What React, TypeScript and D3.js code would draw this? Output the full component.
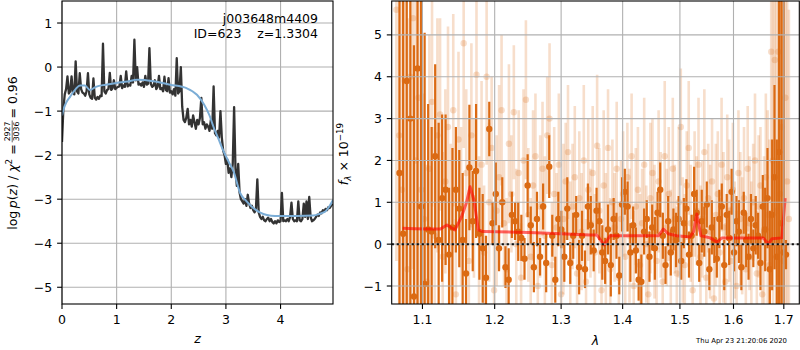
import React, { useEffect, useRef } from 'react';
import * as d3 from 'd3';

// ---- left panel: log p(z) ----
const PZ_DZ = 0.025; // redshift grid step of the p(z) curve
const pzLogP = [
  -1.70, -0.95, -0.62, -0.50, -0.21, -0.60, -0.55, -0.21, -0.58, -0.62,
  0.13, -0.55, -0.60, -0.14, -0.50, -0.58, -0.60, -0.65, -0.55, -0.14,
  -0.62, -0.70, -0.72, -0.26, -0.70, -0.74, -0.68, -0.72, -0.65, -0.66,
  0.53, -0.55, -0.60, -0.52, -0.50, -0.13, -0.52, -0.48, -0.30, -0.50,
  -0.47, -0.45, -0.44, -0.20, -0.48, -0.42, -0.45, -0.10, -0.44, -0.40,
  -0.42, -0.20, -0.35, 0.62, -0.30, 0.00, -0.40, -0.38, -0.42, -0.35,
  -0.45, -0.20, -0.40, -0.38, 0.43, -0.38, -0.45, -0.42, -0.30, -0.50,
  -0.45, -0.20, -0.50, -0.48, -0.55, -0.22, -0.52, -0.55, -0.25, -0.58,
  -0.55, -0.62, -0.50, -0.65, 0.20, -0.60, -0.55, 0.00, -0.90, -1.20,
  -1.25, -1.15, -0.95, -1.30, -1.20, -1.35, -1.10, -1.25, -1.40, -1.20,
  -1.30, -1.15, -0.70, -1.30, -1.25, -1.40, -1.30, -1.35, -1.45, -1.20,
  -1.40, -0.44, -1.50, -1.55, -1.45, -1.60, -1.00, -1.60, -1.90, -2.00,
  -2.20, -2.10, -2.40, -2.30, -2.50, -2.20, -0.91, -2.30, -2.70, -2.20,
  -2.85, -3.00, -3.05, -3.10, -3.00, -3.15, -2.90, -3.10, -3.20, -3.15,
  -3.25, -3.30, -3.20, -2.55, -3.30, -3.40, -3.45, -3.40, -3.48, -3.50,
  -3.45, -3.42, -3.50, -3.45, -3.52, -3.55, -3.50, -3.55, -3.48, -3.52,
  -3.50, -2.86, -3.50, -3.48, -3.50, -3.45, -3.50, -3.40, -3.08, -3.45,
  -3.50, -3.48, -3.50, -3.05, -3.48, -3.50, -3.45, -3.10, -3.40, -3.05,
  -3.45, -2.95, -3.40, -3.50, -3.48, -3.45, -3.40, -3.35, -3.38, -3.30,
  -3.32, -3.25, -3.28, -3.22, -3.25, -3.18, -3.20, -3.15, -3.10,
];
const smoothZ = [0, 0.03, 0.08, 0.15, 0.25, 0.33, 0.42, 0.51, 0.62, 0.8, 1.0, 1.2, 1.37, 1.67, 1.98, 2.28, 2.47, 2.6, 2.7, 2.77, 2.87, 2.96, 3.05, 3.14, 3.26, 3.38, 3.5, 3.62, 3.75, 3.9, 4.05, 4.3, 4.6, 4.72, 4.82, 4.9, 4.96];
const smoothLogP = [-1.1, -0.95, -0.8, -0.67, -0.5, -0.42, -0.42, -0.52, -0.45, -0.4, -0.36, -0.33, -0.29, -0.32, -0.4, -0.48, -0.63, -0.85, -1.1, -1.35, -1.65, -1.92, -2.15, -2.37, -2.86, -3.05, -3.2, -3.3, -3.36, -3.38, -3.38, -3.38, -3.37, -3.33, -3.28, -3.15, -3.02];

const leftXTicks = [0, 1, 2, 3, 4];
const leftYTicks = [-5, -4, -3, -2, -1, 0, 1];

// ---- right panel: spectrum ----
const DARK_LAM0 = 1.07; // binned spectrum grid (micron)
const DARK_DLAM = 0.0047;
const darkFlux = [
  1.7, 0.25, 3.9, 3.0, -1.25, 4.2, 0.9, -0.95, 0.35, 0.3,
  2.1, 0.1, 1.1, 1.3, -0.25, 0.4, 1.3, 0.85, 0.1, -0.7,
  1.83, 0.55, 1.75, 0.25, -0.1, -0.8, 2.75, 0.5, 1.2, -0.1,
  1.0, -0.55, -0.85, 0.7, 0.55, 0.3, 0.15, -0.35, 1.4, 0.45,
  -0.55, 0.6, -0.3, 0.9, -0.45, 1.85, 0.2, -0.85, 0.6, 0.35,
  -0.3, 0.85, -0.45, 0.2, 0.7, -0.55, 0.2, -0.6, 0.9, 0.45,
  -0.15, 0.8, 0.55, -0.2, -0.4, 0.35, -0.5, 0.6, 0.2, -0.75,
  0.95, 1.25, 0.9, -0.2, 0.45, -0.15, -0.85, -0.9, 0.3, 0.6,
  -0.3, 0.4, -0.1, 0.75, 1.3, 0.2, -0.5, 0.55, -0.2, 0.35,
  0.1, 0.6, -0.4, 0.5, 0.85, -0.25, 0.2, 1.2, 0.75, -0.45,
  0.55, 0.3, 0.95, -0.6, 0.4, 0.1, -0.35, 0.6, 0.9, -0.5,
  0.7, 0.15, 1.25, -0.2, 0.55, 0.3, -0.55, 0.75, 0.1, -0.3,
  0.6, -0.1, 0.45, 0.2, -0.45, 0.9, 0.35, 1.1, -0.6, 0.7,
  1.6, -0.3, 2.2, 0.5, -0.2, -0.25,
];
const darkErr = [
  6, 6, 6, 6, 6, 6, 6, 6,
  3.0, 2.5, 2.2, 2.8, 2.0,
  1.8, 1.6, 1.9, 1.5, 1.4, 1.6, 1.3, 1.5, 1.2, 1.6, 1.1, 1.3, 1.0,
  0.65, 0.5, 0.75, 0.55, 0.6, 0.5, 0.75, 0.55, 0.45, 0.7,
  0.55, 0.5, 0.75, 0.45, 0.6, 0.65, 0.45, 0.55, 0.7, 0.75,
  0.5, 0.55, 0.65, 0.45, 0.6, 0.75, 0.5, 0.55, 0.45, 0.65,
  0.6, 0.45, 0.55, 0.7, 0.5, 0.55, 0.45, 0.65, 0.55, 0.6,
  0.75, 0.5, 0.55, 0.45, 0.65, 0.55, 0.6, 0.7, 0.45, 0.55,
  0.5, 0.65, 0.55, 0.45, 0.6, 0.55, 0.75, 0.5, 0.65, 0.55,
  0.45, 0.6, 0.55, 0.5, 0.65, 0.55, 0.45, 0.6, 0.7, 0.55,
  0.5, 0.65, 0.55, 0.45, 0.75, 0.6, 0.55, 0.5, 0.65, 0.55,
  0.45, 0.7, 0.55, 0.6, 0.5, 0.65, 0.55, 0.45, 0.6, 0.75,
  0.55, 0.5, 0.65, 0.55, 0.6, 0.45, 0.7, 0.55, 0.65, 0.75,
  1.0, 1.2, 1.4, 1.8, 2.2, 2.8,
  6, 6, 6, 0.35,
];

const LIGHT_LAM0 = 1.066; // unbinned spectrum grid (micron)
const LIGHT_DLAM = 0.0036;
const lightFlux = [
  5.6, 2.6, 1.3, 3.9, -0.6, 4.0, 5.4, 2.0, 3.5, 1.3,
  0.6, -0.9, 1.8, 3.4, 0.2, 2.6, 3.1, -0.3, 1.5, 2.8,
  0.4, 3.2, -1.2, 2.5, 0.9, 4.8, 1.7, -0.4, 2.6, 1.1,
  4.05, 0.3, 1.9, -0.2, 4.0, 1.0, 2.3, -1.1, 0.8, 1.6,
  3.2, 0.5, -0.6, 2.4, 1.2, 3.15, 0.0, 1.7, -0.8, 2.0,
  3.45, 0.7, -0.3, 1.4, 2.1, -1.0, 0.9, 1.8, 0.2, 2.6,
  3.0, -0.5, 1.2, 0.4, 1.9, -1.2, 0.6, 1.5, 2.2, -0.4,
  0.9, 1.6, -0.7, 1.1, 0.3, 2.0, -0.9, 1.3, 0.5, 1.7,
  -0.2, 2.35, 0.8, -1.1, 1.4, 0.1, 2.3, -0.6, 1.0, 0.4,
  1.8, -0.8, 0.6, 1.2, -0.3, 1.6, 0.2, 2.1, -1.0, 0.9,
  1.3, -0.5, 0.5, 1.9, 0.0, -1.2, 1.1, 1.7, 0.3, -0.4,
  1.5, 0.7, -0.9, 2.1, 0.4, 1.2, -0.2, 1.8, 0.6, -0.7,
  1.0, 2.8, 0.1, -0.5, 1.4, 2.3, 0.5, -1.1, 1.2, 0.8,
  1.9, -0.3, 0.6, 2.2, -0.8, 1.1, 0.3, 1.5, -1.3, 0.7,
  1.2, -0.2, 1.9, 0.4, -0.9, 1.6, 0.8, -0.4, 1.3, 0.1,
  -1.0, 1.7, 0.6, 0.2, 1.1, -0.6, 1.8, 0.5, -0.3, 1.0,
  2.0, -0.7, 0.9, 1.4, -1.2, 0.3, 1.6, 0.7, -0.5, 4.6,
  2.0, 4.4, 0.8, 4.6, 1.2, 2.8, -0.4, 3.5, 1.5, 0.6,
];
const lightErr = [
  6, 6, 6, 6, 6, 6, 6, 6, 6, 6,
  3.0, 2.8, 3.2, 2.5, 2.6, 2.8, 2.3, 2.5, 2.2, 2.4,
  2.0, 2.3, 1.8, 2.1, 1.9, 2.5, 2.0, 1.7, 2.2, 1.9,
  2.4, 1.8, 2.0, 1.6, 2.1, 1.9, 1.7, 2.0, 1.8, 2.2,
  1.8, 1.5, 1.7, 1.9, 1.4, 1.6, 1.8, 1.5, 1.3, 1.7,
  1.9, 1.6, 1.4, 1.8, 1.5, 1.3, 1.7, 1.6, 1.9, 1.4,
  1.8, 1.5, 1.6, 1.3, 1.7, 1.5, 1.8, 1.4, 1.6, 1.9,
  1.5, 1.7, 1.3, 1.6, 1.4, 1.8, 1.5, 1.7, 1.3, 1.6,
  1.4, 1.7, 1.5, 1.3, 1.8, 1.6, 1.4, 1.7, 1.5, 1.3,
  1.6, 1.8, 1.4, 1.5, 1.7, 1.3, 1.6, 1.5, 1.8, 1.4,
  1.5, 1.7, 1.3, 1.6, 1.4, 1.5, 1.8, 1.3, 1.6, 1.4,
  1.7, 1.5, 1.3, 1.8, 1.4, 1.6, 1.5, 1.7, 1.3, 1.6,
  1.8, 1.4, 1.5, 1.7, 1.3, 1.6, 1.4, 1.8, 1.5, 1.3,
  1.6, 1.7, 1.4, 1.5, 1.8, 1.3, 1.6, 1.5, 1.4, 1.7,
  1.5, 1.3, 1.6, 1.8, 1.4, 1.5, 1.7, 1.3, 1.6, 1.4,
  1.8, 1.5, 1.6, 1.4, 1.7, 1.3, 1.5, 1.6, 1.8, 1.4,
  1.6, 1.5, 1.7, 1.4, 1.6, 1.8,
  2.0, 2.5, 3.0, 4.0, 5, 5, 6, 6, 6, 6, 6, 6, 6, 5,
];

const modelLam = [1.074, 1.09, 1.11, 1.124, 1.133, 1.144, 1.153, 1.160, 1.165, 1.1705, 1.1766, 1.183, 1.25, 1.30, 1.346, 1.357, 1.369, 1.379, 1.42, 1.4615, 1.4703, 1.4787, 1.4944, 1.5185, 1.525, 1.5309, 1.5383, 1.5557, 1.5683, 1.5778, 1.62, 1.6586, 1.6685, 1.676, 1.6959, 1.7027];
const modelFlux = [0.38, 0.37, 0.36, 0.36, 0.46, 0.34, 0.65, 1.0, 1.37, 1.05, 0.34, 0.30, 0.28, 0.25, 0.22, 0.22, -0.02, 0.20, 0.20, 0.20, 0.36, 0.25, 0.20, 0.17, 0.30, 0.72, 0.20, 0.15, 0.05, 0.15, 0.15, 0.15, 0.0, 0.13, 0.15, 1.1];

const rightXTicks = [1.1, 1.2, 1.3, 1.4, 1.5, 1.6, 1.7];
const rightYTicks = [-1, 0, 1, 2, 3, 4, 5];

const FONT = 'DejaVu Sans, sans-serif';
const FS = 12.5;
const GRID = '#b0b0b0';
const ORANGE = '#db6a13';

const fmt = (v: number, digits = 0) => (v < 0 ? '\u2212' : '') + Math.abs(v).toFixed(digits);

export default function App() {
  const svgRef = useRef<SVGSVGElement>(null);

  useEffect(() => {
    if (!svgRef.current) return;
    const svg = d3.select(svgRef.current);
    svg.selectAll('*').remove();

    const L = { l: 62, r: 333, t: 1, b: 304 };
    const R = { l: 391.7, r: 799.3, t: 1, b: 304 };

    const xL = d3.scaleLinear().domain([0, 4.96]).range([L.l, L.r]);
    const yL = d3.scaleLinear().domain([-5.38, 1.5]).range([L.b, L.t]);
    const xR = d3.scaleLog().domain([1.06, 1.732]).range([R.l, R.r]);
    const yR = d3.scaleLinear().domain([-1.43, 5.81]).range([R.b, R.t]);

    const defs = svg.append('defs');
    defs.append('clipPath').attr('id', 'clipL')
      .append('rect').attr('x', L.l).attr('y', L.t).attr('width', L.r - L.l).attr('height', L.b - L.t);
    defs.append('clipPath').attr('id', 'clipR')
      .append('rect').attr('x', R.l).attr('y', R.t).attr('width', R.r - R.l).attr('height', R.b - R.t);

    // grid helper
    const grid = (g: any, xs: number[], ys: number[], P: any) => {
      xs.forEach(x => g.append('line').attr('x1', x).attr('x2', x).attr('y1', P.t).attr('y2', P.b)
        .attr('stroke', GRID).attr('stroke-width', 1.1));
      ys.forEach(y => g.append('line').attr('x1', P.l).attr('x2', P.r).attr('y1', y).attr('y2', y)
        .attr('stroke', GRID).attr('stroke-width', 1.1));
    };

    // ---------- left panel ----------
    const gl = svg.append('g');
    grid(gl, leftXTicks.map(t => xL(t)), leftYTicks.map(t => yL(t)), L);

    const dataL = gl.append('g').attr('clip-path', 'url(#clipL)');
    const pzLine = d3.line<number>().x((_, i) => xL(i * PZ_DZ)).y(d => yL(d));
    dataL.append('path').attr('d', pzLine(pzLogP)!)
      .attr('fill', 'none').attr('stroke', '#333').attr('stroke-width', 2.3).attr('stroke-linejoin', 'round');

    const smooth = d3.line<number>().x((_, i) => xL(smoothZ[i])).y(d => yL(d)).curve(d3.curveMonotoneX);
    dataL.append('path').attr('d', smooth(smoothLogP)!)
      .attr('fill', 'none').attr('stroke', '#7badd6').attr('stroke-width', 2);

    gl.append('rect').attr('x', L.l).attr('y', L.t).attr('width', L.r - L.l).attr('height', L.b - L.t)
      .attr('fill', 'none').attr('stroke', '#000').attr('stroke-width', 1.1);

    leftXTicks.forEach(t => {
      gl.append('line').attr('x1', xL(t)).attr('x2', xL(t)).attr('y1', L.b).attr('y2', L.b + 4.9).attr('stroke', '#000').attr('stroke-width', 1.1);
      gl.append('text').attr('x', xL(t)).attr('y', 324).attr('text-anchor', 'middle')
        .attr('font-family', FONT).attr('font-size', FS).text(fmt(t));
    });
    leftYTicks.forEach(t => {
      gl.append('line').attr('x1', L.l - 4.9).attr('x2', L.l).attr('y1', yL(t)).attr('y2', yL(t)).attr('stroke', '#000').attr('stroke-width', 1.1);
      gl.append('text').attr('x', L.l - 9.7).attr('y', yL(t) + 4.5).attr('text-anchor', 'end')
        .attr('font-family', FONT).attr('font-size', FS).text(fmt(t));
    });

    // annotation
    gl.append('text').attr('x', 318).attr('y', 23).attr('text-anchor', 'end')
      .attr('font-family', FONT).attr('font-size', FS).text('j003648m4409');
    gl.append('text').attr('x', 318).attr('y', 38).attr('text-anchor', 'end').style('white-space', 'pre')
      .attr('font-family', FONT).attr('font-size', FS).text('ID=623    z=1.3304');

    gl.append('text').attr('x', (L.l + L.r) / 2).attr('y', 342.5).attr('text-anchor', 'middle')
      .attr('font-family', FONT).attr('font-size', FS).attr('font-style', 'italic').text('z');

    // left y label: log p(z) / chi^2 = 2927/3036 = 0.96
    const lab = gl.append('g').attr('transform', 'translate(16.5,153) rotate(-90)');
    const t1 = lab.append('text').attr('font-family', FONT).attr('font-size', FS);
    t1.append('tspan').text('log\u2009');
    t1.append('tspan').attr('font-style', 'italic').text('p');
    t1.append('tspan').text('(');
    t1.append('tspan').attr('font-style', 'italic').text('z');
    t1.append('tspan').text(') / ');
    t1.append('tspan').attr('font-style', 'italic').text('\u03c7');
    t1.append('tspan').attr('font-size', 8.75).attr('dy', -5).text('2');
    t1.append('tspan').attr('dy', 5).text(' = ');
    const w1 = (t1.node() as SVGTextElement).getComputedTextLength();
    const num = lab.append('text').attr('font-family', FONT).attr('font-size', 7.8).attr('text-anchor', 'middle').text('2927');
    const den = lab.append('text').attr('font-family', FONT).attr('font-size', 7.8).attr('text-anchor', 'middle').text('3036');
    const wf = Math.max((num.node() as SVGTextElement).getComputedTextLength(), (den.node() as SVGTextElement).getComputedTextLength()) + 2;
    const pad = 2;
    const t3 = lab.append('text').attr('font-family', FONT).attr('font-size', FS).text(' = 0.96');
    const w3 = (t3.node() as SVGTextElement).getComputedTextLength();
    const total = w1 + pad + wf + pad + w3;
    const x0 = -total / 2;
    const fx = x0 + w1 + pad;
    t1.attr('x', x0);
    num.attr('x', fx + wf / 2).attr('y', -6.2);
    den.attr('x', fx + wf / 2).attr('y', 2.4);
    lab.append('line').attr('x1', fx).attr('x2', fx + wf).attr('y1', -4.3).attr('y2', -4.3)
      .attr('stroke', '#000').attr('stroke-width', 0.6);
    t3.attr('x', fx + wf + pad);

    // ---------- right panel ----------
    const gr = svg.append('g');
    const dataR = gr.append('g').attr('clip-path', 'url(#clipR)');

    const lightG = dataR.append('g');
    lightFlux.forEach((f, i) => {
      const x = xR(LIGHT_LAM0 + i * LIGHT_DLAM);
      const e = lightErr[i];
      lightG.append('line').attr('x1', x).attr('x2', x).attr('y1', yR(f - e)).attr('y2', yR(f + e))
        .attr('stroke', ORANGE).attr('stroke-width', 2.6).attr('stroke-opacity', 0.22);
      lightG.append('circle').attr('cx', x).attr('cy', yR(f)).attr('r', 3.2)
        .attr('fill', ORANGE).attr('fill-opacity', 0.22);
    });

    const darkG = dataR.append('g');
    darkFlux.forEach((f, i) => {
      const x = xR(DARK_LAM0 + i * DARK_DLAM);
      const e = darkErr[i];
      darkG.append('line').attr('x1', x).attr('x2', x).attr('y1', yR(f - e)).attr('y2', yR(f + e))
        .attr('stroke', ORANGE).attr('stroke-width', 2.2);
      darkG.append('circle').attr('cx', x).attr('cy', yR(f)).attr('r', 3.2).attr('fill', ORANGE);
    });

    grid(gr, rightXTicks.map(t => xR(t)), rightYTicks.map(t => yR(t)), R);

    const model = d3.line<number>().x((_, i) => xR(modelLam[i])).y(d => yR(d));
    dataR.append('path').attr('d', model(modelFlux)!)
      .attr('fill', 'none').attr('stroke', 'red').attr('stroke-opacity', 0.6).attr('stroke-width', 3)
      .attr('stroke-linejoin', 'round');

    gr.append('line').attr('x1', R.l).attr('x2', R.r).attr('y1', yR(0)).attr('y2', yR(0))
      .attr('stroke', '#111').attr('stroke-width', 2).attr('stroke-dasharray', '2.2 2.8');

    gr.append('rect').attr('x', R.l).attr('y', R.t).attr('width', R.r - R.l).attr('height', R.b - R.t)
      .attr('fill', 'none').attr('stroke', '#000').attr('stroke-width', 1.1);

    rightXTicks.forEach(t => {
      gr.append('line').attr('x1', xR(t)).attr('x2', xR(t)).attr('y1', R.b).attr('y2', R.b + 4.9).attr('stroke', '#000').attr('stroke-width', 1.1);
      gr.append('text').attr('x', xR(t)).attr('y', 324).attr('text-anchor', 'middle')
        .attr('font-family', FONT).attr('font-size', FS).text(fmt(t, 1));
    });
    rightYTicks.forEach(t => {
      gr.append('line').attr('x1', R.l - 4.9).attr('x2', R.l).attr('y1', yR(t)).attr('y2', yR(t)).attr('stroke', '#000').attr('stroke-width', 1.1);
      gr.append('text').attr('x', R.l - 9.7).attr('y', yR(t) + 4.5).attr('text-anchor', 'end')
        .attr('font-family', FONT).attr('font-size', FS).text(fmt(t));
    });

    gr.append('text').attr('x', (R.l + R.r) / 2).attr('y', 344.5).attr('text-anchor', 'middle')
      .attr('font-family', FONT).attr('font-size', FS).attr('font-style', 'italic').text('\u03bb');

    const rl = gr.append('g').attr('transform', 'translate(347.5,154) rotate(-90)');
    const rt = rl.append('text').attr('font-family', FONT).attr('font-size', FS).attr('text-anchor', 'middle');
    rt.append('tspan').attr('font-style', 'italic').text('f');
    rt.append('tspan').attr('font-style', 'italic').attr('font-size', 8.75).attr('dy', 3).text('\u03bb');
    rt.append('tspan').attr('dy', -3).text(' \u00d7 10');
    rt.append('tspan').attr('font-size', 8.75).attr('dy', -5).text('\u221219');

    svg.append('text').attr('x', 787).attr('y', 342.7).attr('text-anchor', 'end')
      .attr('font-family', FONT).attr('font-size', 6.9).text('Thu Apr 23 21:20:06 2020');
  }, []);

  return (
    <svg ref={svgRef} width={800} height={350}
      style={{ position: 'absolute', left: 0, top: 0, background: '#fff' }} />
  );
}
